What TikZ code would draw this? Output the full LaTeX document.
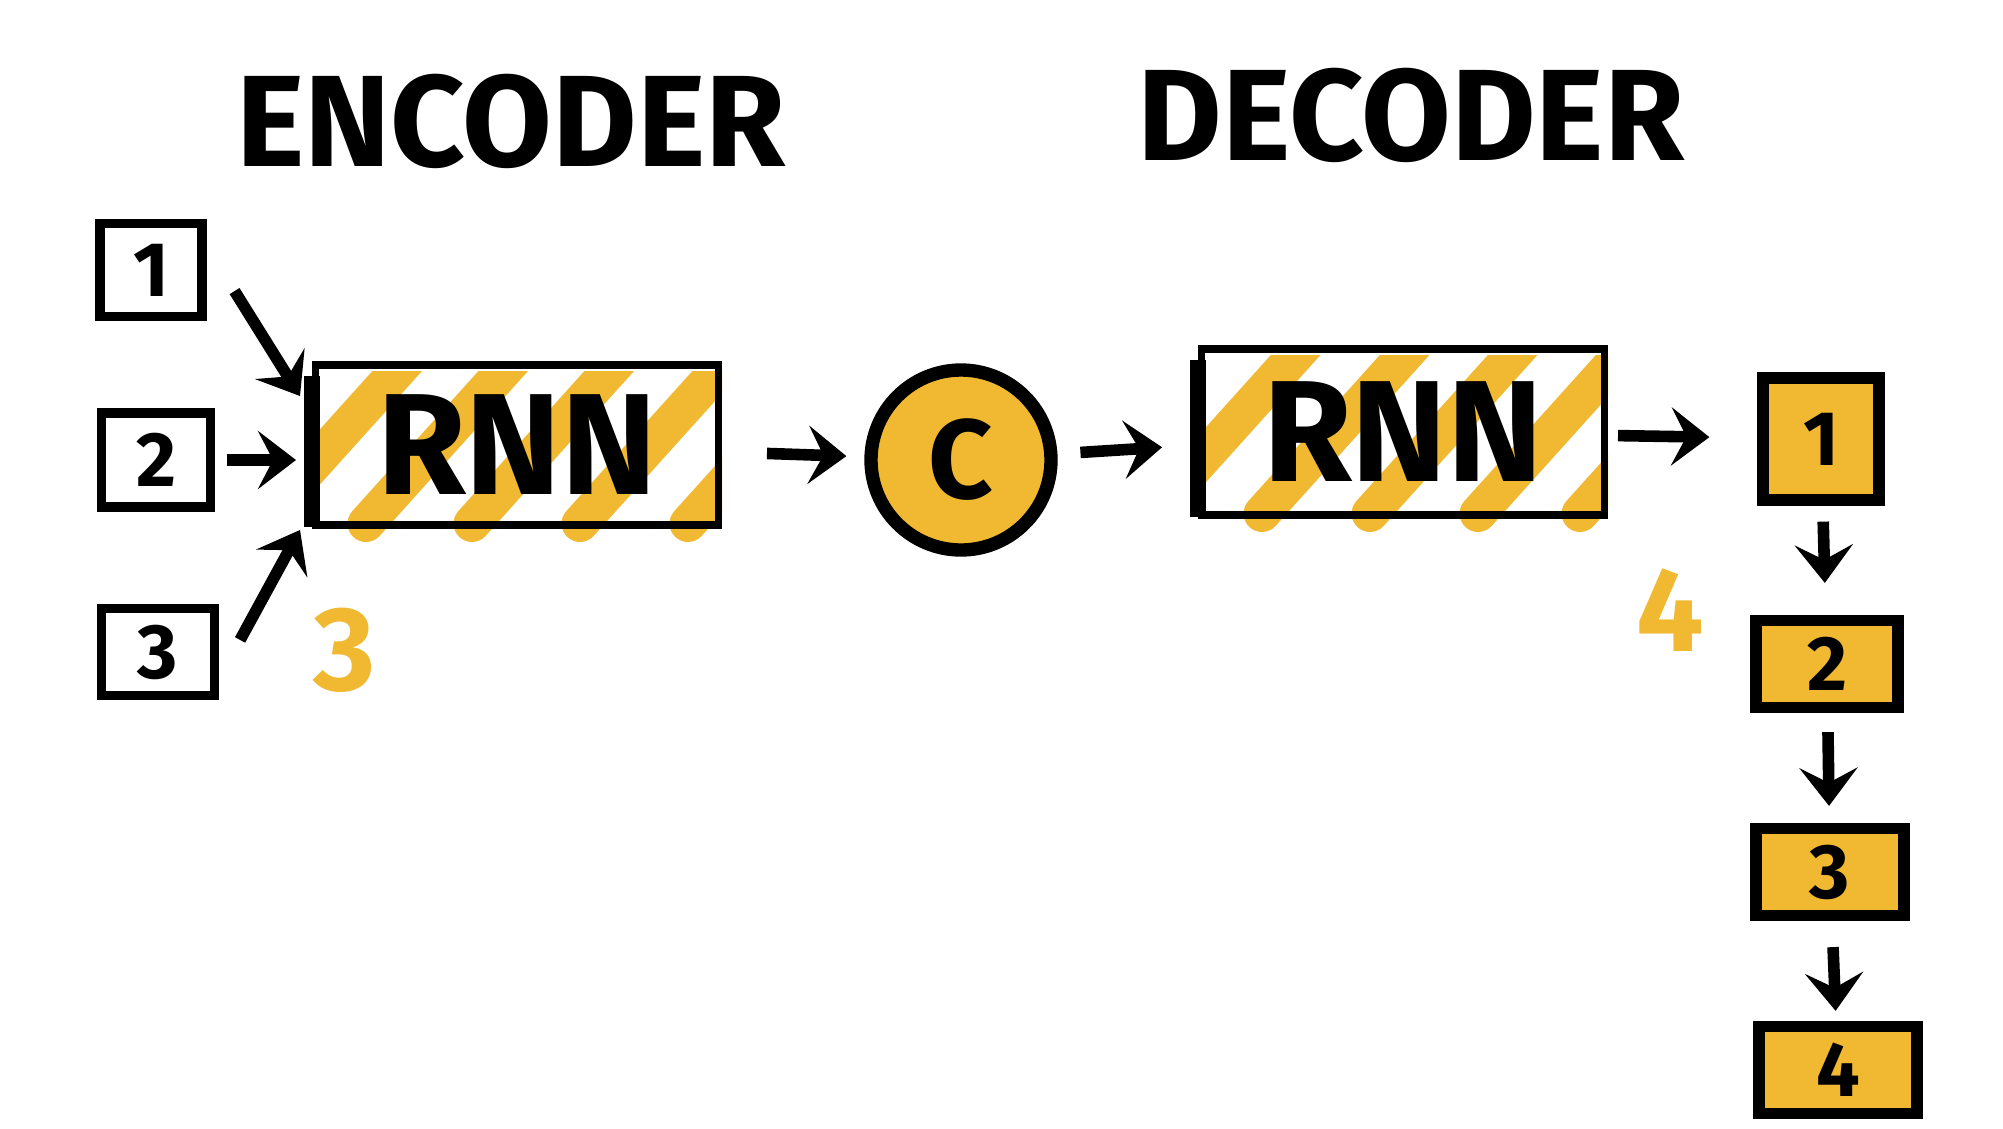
\documentclass[tikz,border=0pt]{standalone}
\usepackage{fontspec}
\setmainfont{Fira Sans}
\usepackage{tikz}
\usetikzlibrary{arrows.meta, positioning, backgrounds}
\definecolor{marker}{HTML}{F1B932}
\begin{document}
\begin{tikzpicture}[
    >=Stealth,
    font=\bfseries,
    title/.style={font=\fontsize{37}{37}\selectfont\bfseries},
    inbox/.style={rectangle, draw, line width=2.6pt, fill=white, font=\fontsize{22}{22}\selectfont\bfseries},
    outbox/.style={rectangle, draw, line width=3.2pt, fill=marker, font=\fontsize{22}{22}\selectfont\bfseries,
        append after command={[line width=6.5pt] (\tikzlastnode.south west) edge (\tikzlastnode.north west)
            (\tikzlastnode.south east) edge (\tikzlastnode.north east)}},
    rnn/.style={rectangle, draw, line width=2pt, minimum width=4.03cm, minimum height=1.6cm, font=\fontsize{41}{41}\selectfont\bfseries},
    ctxnode/.style={circle, draw, line width=3.8pt, fill=marker, minimum size=1.8cm, inner sep=0pt, font=\fontsize{32}{32}\selectfont\bfseries},
    stripe/.style={marker, line width=10.5pt, line cap=round},
    note/.style={text=marker, font=\fontsize{34}{34}\selectfont\bfseries},
    arrow/.style={-{Stealth[length=3.8mm, width=5.8mm, inset=1.5mm]}, line width=3.3pt}
]
\useasboundingbox (0,0) rectangle (20.03,-11.28);

\node[title] (enctitle) at (5.11,-1.21) {ENCODER};
\node[title] (dectitle) at (14.11,-1.15) {DECODER};

\node[inbox, minimum width=1.02cm, minimum height=0.93cm] (in1) at (1.51,-2.70) {1};
\node[inbox, minimum width=1.09cm, minimum height=0.94cm] (in2) at (1.56,-4.60) {2};
\node[inbox, minimum width=1.13cm, minimum height=0.87cm] (in3) at (1.58,-6.52) {3};

\node[rnn] (encrnn) at (5.17,-4.45) {RNN};
\node[ctxnode] (ctx) at (9.61,-4.60) {C};
\node[rnn, minimum height=1.66cm] (decrnn) at (14.03,-4.32) {RNN};

\node[outbox, minimum width=1.16cm, minimum height=1.22cm] (out1) at (18.21,-4.39) {1};
\node[outbox, minimum width=1.41cm, minimum height=0.87cm] (out2) at (18.27,-6.64) {2};
\node[outbox, minimum width=1.47cm, minimum height=0.87cm] (out3) at (18.30,-8.72) {3};
\node[outbox, minimum width=1.58cm, minimum height=0.87cm] (out4) at (18.38,-10.70) {4};

\node[note] (encnote) at (3.45,-6.50) {3};
\node[note] (decnote) at (16.70,-6.10) {4};

\begin{scope}[on background layer]
\begin{scope}
\clip ([yshift=-0.4cm]encrnn.south west) rectangle ([yshift=-0.1cm]encrnn.north east);
\foreach \x in {-0.52,0.54,1.6,2.68,3.76}
    \draw[stripe] ([xshift=\x cm, yshift=0.05cm]encrnn.south west) -- ++(1.8,2.0);
\end{scope}
\begin{scope}
\clip ([yshift=-0.4cm]decrnn.south west) rectangle ([yshift=-0.1cm]decrnn.north east);
\foreach \x in {-0.45,0.64,1.72,2.8,3.82}
    \draw[stripe] ([xshift=\x cm, yshift=0.05cm]decrnn.south west) -- ++(1.8,2.0);
\end{scope}
\end{scope}
\draw[line width=4.5pt] ([yshift=0.02cm]encrnn.south west) -- ([yshift=-0.15cm]encrnn.north west);
\draw[line width=4.5pt] ([yshift=0.02cm]decrnn.south west) -- ([yshift=-0.15cm]decrnn.north west);

\coordinate (hit1) at (3.00,-3.96);
\coordinate (hit2) at (2.96,-4.60);
\coordinate (hit3) at (3.00,-5.30);

\draw[arrow] ([xshift=0.28cm, yshift=0.30cm]in1.south east) -- (hit1);
\draw[arrow, shorten <=0.12cm] (in2) -- (hit2);
\draw[arrow] ([xshift=0.21cm, yshift=-0.36cm]in3.north east) -- (hit3);
\draw[arrow, shorten <=0.45cm, shorten >=0.18cm] (encrnn) -- (ctx);
\draw[arrow, shorten <=0.23cm, shorten >=0.36cm] (ctx) -- (decrnn);
\draw[arrow, shorten <=0.1cm, shorten >=0.48cm] (decrnn) -- (out1);
\draw[arrow, shorten <=0.16cm, shorten >=0.32cm] (out1) -- (out2);
\draw[arrow, shorten <=0.19cm, shorten >=0.17cm] (out2) -- (out3);
\draw[arrow, shorten <=0.26cm, shorten >=0.10cm] (out3) -- (out4);
\end{tikzpicture}
\end{document}
